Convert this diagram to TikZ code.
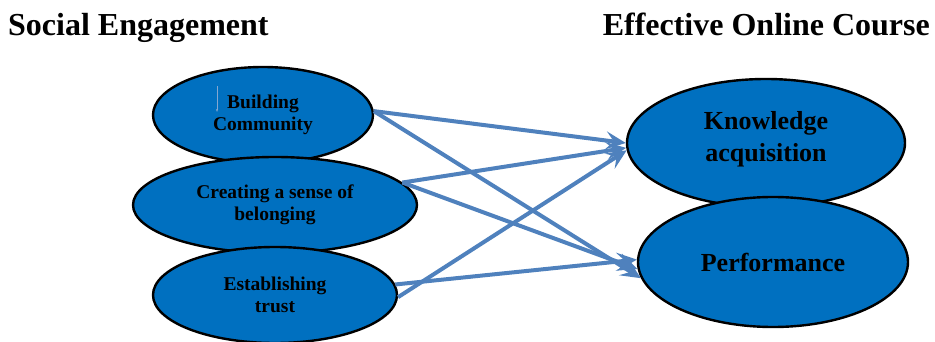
\documentclass[tikz,border=0pt]{standalone}
\usepackage{fontspec}
\setmainfont{Liberation Serif}
\usetikzlibrary{shapes.geometric,arrows.meta}
\definecolor{ovalblue}{RGB}{0,112,192}
\definecolor{linkblue}{RGB}{79,129,189}
\begin{document}
\begin{tikzpicture}[x=1pt,y=-1pt,
    oval/.style={ellipse,draw=black,line width=2.4pt,fill=ovalblue,inner sep=0pt,
        align=center,font=\bfseries\fontsize{19.5}{22}\selectfont},
    bigoval/.style={oval,font=\bfseries\fontsize{26}{32}\selectfont},
    heading/.style={inner sep=0pt,font=\bfseries\fontsize{32}{36}\selectfont},
    link/.style={-{Stealth[length=20pt,width=18pt,inset=8pt]},line width=4pt,draw=linkblue,fill=linkblue}]
    
    \useasboundingbox (0,0) rectangle (935,342);
    
    % headings
    \node[heading,anchor=base west] (left) at (8,36) {Social Engagement};
    \node[heading,anchor=base east] (right) at (930,36) {Effective Online Course};
    
    % social engagement
    \node[oval,minimum width=220,minimum height=96] (bc) at (263,115) {Building\\Community};
    \node[oval,minimum width=284,minimum height=96] (cr) at (275,205) {Creating a sense of\\belonging};
    \node[oval,minimum width=244,minimum height=96] (tr) at (275,295) {Establishing\\trust};
    
    % stray mark
    \coordinate (m1) at (217,86);
    \coordinate (m2) at (217,112);
    \draw[-{Stealth[length=3pt,width=2pt]},line width=0.5pt,linkblue!70] (m1) -- (m2);
    
    % effective online course
    \node[bigoval,minimum width=278,minimum height=128,text depth=14pt] (k) at (766,143) {Knowledge\\acquisition};
    \node[bigoval,minimum width=270,minimum height=130] (p) at (773,262) {Performance};
    
    % links
    \draw[link] (bc.2) -- (k.west);
    \draw[link] (bc.2) -- (p.187);
    \draw[link] (cr.10) -- (k.182);
    \draw[link] (cr.10) -- (p.183);
    \draw[link] (tr.5) -- (p.179);
    \draw[link] (tr.-1) -- (k.183);
    
\end{tikzpicture}
\end{document}
